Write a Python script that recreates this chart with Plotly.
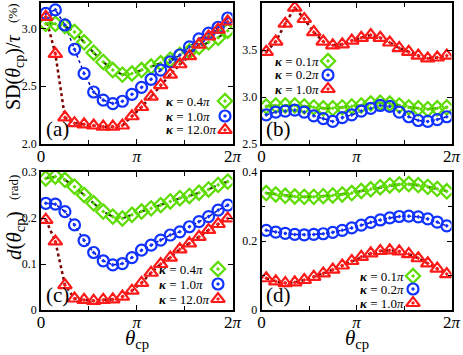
import math
import plotly.graph_objects as go

PI = math.pi
W, H = 463, 355

# sampling points, in units of pi
theta_pi = [0.05, 0.15, 0.25, 0.35, 0.45, 0.55, 0.65, 0.75, 0.85, 0.95,
            1.05, 1.15, 1.25, 1.35, 1.45, 1.55, 1.65, 1.75, 1.85, 1.95]
theta = [t * PI for t in theta_pi]

# (a) SD(theta_cp)/tau in %
sd_a_04 = [3.04, 3.04, 3.02, 2.97, 2.88, 2.79, 2.71, 2.64, 2.60, 2.61,
           2.64, 2.67, 2.70, 2.73, 2.77, 2.80, 2.84, 2.88, 2.92, 2.98]
sd_a_10 = [3.13, 3.16, 3.03, 2.82, 2.61, 2.45, 2.38, 2.35, 2.37, 2.43,
           2.49, 2.56, 2.64, 2.71, 2.77, 2.84, 2.91, 2.96, 3.01, 3.09]
sd_a_120 = [3.10, 2.78, 2.23, 2.18, 2.17, 2.16, 2.15, 2.15, 2.16, 2.24,
            2.32, 2.41, 2.51, 2.60, 2.69, 2.76, 2.86, 2.93, 2.99, 3.06]

# (b) SD(theta_cp)/tau in %
sd_b_01 = [2.90, 2.91, 2.91, 2.91, 2.90, 2.89, 2.88, 2.88, 2.89, 2.90,
           2.91, 2.93, 2.94, 2.93, 2.91, 2.89, 2.88, 2.87, 2.88, 2.89]
sd_b_02 = [2.81, 2.84, 2.85, 2.86, 2.84, 2.80, 2.77, 2.74, 2.78, 2.81,
           2.85, 2.88, 2.91, 2.90, 2.84, 2.79, 2.75, 2.74, 2.76, 2.79]
sd_b_10 = [3.48, 3.59, 3.78, 3.95, 3.83, 3.69, 3.59, 3.55, 3.56, 3.60,
           3.63, 3.66, 3.63, 3.58, 3.52, 3.48, 3.44, 3.41, 3.42, 3.44]

# (c) d(theta_cp) in rad
d_c_04 = [0.286, 0.290, 0.283, 0.268, 0.250, 0.232, 0.214, 0.203, 0.199, 0.207,
          0.214, 0.221, 0.228, 0.236, 0.243, 0.248, 0.255, 0.262, 0.272, 0.279]
d_c_10 = [0.232, 0.230, 0.214, 0.185, 0.151, 0.125, 0.107, 0.098, 0.101, 0.114,
          0.130, 0.141, 0.152, 0.163, 0.170, 0.181, 0.192, 0.203, 0.217, 0.228]
d_c_120 = [0.196, 0.149, 0.054, 0.025, 0.022, 0.020, 0.022, 0.023, 0.029, 0.042,
           0.059, 0.081, 0.100, 0.114, 0.132, 0.145, 0.159, 0.174, 0.187, 0.199]

# (d) d(theta_cp) in rad
d_d_01 = [0.339, 0.335, 0.331, 0.329, 0.328, 0.328, 0.330, 0.332, 0.335, 0.339,
          0.345, 0.350, 0.356, 0.361, 0.364, 0.365, 0.362, 0.357, 0.351, 0.344]
d_d_02 = [0.231, 0.226, 0.222, 0.219, 0.218, 0.219, 0.221, 0.225, 0.231, 0.238,
          0.246, 0.254, 0.261, 0.267, 0.271, 0.272, 0.270, 0.264, 0.255, 0.244]
d_d_10 = [0.092, 0.083, 0.078, 0.080, 0.087, 0.096, 0.106, 0.117, 0.129, 0.142,
          0.154, 0.164, 0.171, 0.173, 0.170, 0.162, 0.150, 0.135, 0.120, 0.104]

labels_ac = ["0.4", "1.0", "12.0"]
labels_bd = ["0.1", "0.2", "1.0"]

GREEN = "#5ddc00"
BLUE = "#1133ff"
RED = "#ff1a1a"
FONT = "Liberation Serif"

styles = [
    dict(color=GREEN, symbol="diamond-open-dot", size=11, line_color="#1f3d00", dash="dash", lw=2.2),
    dict(color=BLUE, symbol="circle-open-dot", size=11, line_color="#0000bb", dash="dot", lw=1.5),
    dict(color=RED, symbol="triangle-up-open-dot", size=12, line_color="#7a0000", dash="dot", lw=2.5),
]

# legend boxes in pixels: text left x, key x, row y's
legend_boxes = [
    (164, 225, [101, 116, 130]),
    (273, 328, [61, 75, 89]),
    (157, 218, [269, 284, 299]),
    (358, 413, [276, 289, 303]),
]

panels = [
    ("x", "y", [sd_a_04, sd_a_10, sd_a_120], labels_ac),
    ("x2", "y2", [sd_b_01, sd_b_02, sd_b_10], labels_bd),
    ("x3", "y3", [d_c_04, d_c_10, d_c_120], labels_ac),
    ("x4", "y4", [d_d_01, d_d_02, d_d_10], labels_bd),
]

fig = go.Figure()
for xa, ya, series, labs in panels:
    for vals, st in zip(series, styles):
        fig.add_trace(go.Scatter(x=theta, y=vals, xaxis=xa, yaxis=ya, mode="lines",
                                 line=dict(color=st["line_color"], dash=st["dash"], width=st["lw"]),
                                 showlegend=False, hoverinfo="skip"))
    for vals, st, lab in zip(series, styles, labs):
        fig.add_trace(go.Scatter(x=theta, y=vals, xaxis=xa, yaxis=ya, mode="markers",
                                 marker=dict(symbol=st["symbol"], size=st["size"], color=st["color"],
                                             line=dict(color=st["color"], width=2.2)),
                                 name="κ = " + lab + "π", showlegend=False))

# legend keys (symbol on the right of the text), drawn on a pixel overlay axis
for i, st in enumerate(styles):
    fig.add_trace(go.Scatter(x=[b[1] for b in legend_boxes], y=[b[2][i] for b in legend_boxes],
                             xaxis="x5", yaxis="y5", mode="markers", showlegend=False, hoverinfo="skip",
                             marker=dict(symbol=st["symbol"], size=st["size"], color=st["color"],
                                         line=dict(color=st["color"], width=2.2))))
for (tx, kx, rows), (_, _, _, labs) in zip(legend_boxes, panels):
    for ry, lab in zip(rows, labs):
        fig.add_annotation(text="<b><i>κ</i></b> = " + lab + "<i>π</i>", x=tx / W, y=1 - ry / H,
                           xref="paper", yref="paper", xanchor="left", yanchor="middle", showarrow=False,
                           font=dict(family=FONT, size=13, color="black"))

xdom_l = [41 / W, 232.5 / W]
xdom_r = [261.5 / W, 451.5 / W]
ydom_t = [1 - 144 / H, 1 - 3 / H]
ydom_b = [1 - 310 / H, 1 - 172 / H]

xticks = dict(tickmode="array", tickvals=[0, PI, 2 * PI],
              ticktext=["0", "<i>π</i>", "2<i>π</i>"], ticklabelstandoff=-4,
              minor=dict(tickmode="array", tickvals=[PI / 2, 1.5 * PI], ticks="inside", ticklen=4,
                         tickcolor="black", tickwidth=1.2),
              range=[0, 2 * PI], tickfont=dict(family=FONT, size=17, color="black"))
common = dict(showline=True, linecolor="black", linewidth=1.5, mirror="ticks", ticks="inside",
              ticklen=5, tickwidth=1.2, tickcolor="black", showgrid=False, zeroline=False,
              automargin=False, fixedrange=True)
yfont = dict(family=FONT, size=12, color="black")

fig.update_layout(
    width=W, height=H, margin=dict(l=0, r=0, t=0, b=0),
    paper_bgcolor="white", plot_bgcolor="rgba(0,0,0,0)",
    xaxis=dict(domain=xdom_l, anchor="y", **xticks, **common),
    yaxis=dict(domain=ydom_t, anchor="x", range=[2.0, 3.22], tickvals=[2.0, 2.5, 3.0],
               ticktext=["2.0", "2.5", "3.0"], tickfont=yfont, **common),
    xaxis2=dict(domain=xdom_r, anchor="y2", **xticks, **common),
    yaxis2=dict(domain=ydom_t, anchor="x2", range=[2.5, 4.0], tickvals=[2.5, 3.0, 3.5, 4.0],
                ticktext=["2.5", "3.0", "3.5", "4.0"], tickfont=yfont, **common),
    xaxis3=dict(domain=xdom_l, anchor="y3", **xticks, **common),
    yaxis3=dict(domain=ydom_b, anchor="x3", range=[0, 0.3], tickvals=[0, 0.1, 0.2, 0.3],
                ticktext=["0", "0.1", "0.2", "0.3"], tickfont=yfont, **common),
    xaxis4=dict(domain=xdom_r, anchor="y4", **xticks, **common),
    yaxis4=dict(domain=ydom_b, anchor="x4", range=[0, 0.4], tickvals=[0, 0.2, 0.4],
                ticktext=["0", "0.2", "0.4"], tickfont=yfont,
                minor=dict(tickmode="array", tickvals=[0.1, 0.3], ticks="inside", ticklen=4,
                           tickcolor="black", tickwidth=1.2), **common),
    xaxis5=dict(domain=[0, 1], anchor="y5", range=[0, W], visible=False, fixedrange=True),
    yaxis5=dict(domain=[0, 1], anchor="x5", range=[H, 0], visible=False, fixedrange=True),
    showlegend=False,
)

ann = [
    dict(text="SD(<i>θ</i><sub>cp</sub>)/<i>τ</i>", x=15, y=72, size=20),
    dict(text="(%)", x=13, y=13, size=13),
    dict(text="<i>d</i>(<i>θ</i><sub>cp</sub>)", x=15, y=236, size=21),
    dict(text="(rad)", x=13, y=188, size=13),
]
for a in ann:
    fig.add_annotation(text=a["text"], x=a["x"] / W, y=1 - a["y"] / H, xref="paper", yref="paper",
                       xanchor="center", yanchor="middle", textangle=-90, showarrow=False,
                       font=dict(family=FONT, size=a["size"], color="black"))

for x in [137, 357]:
    fig.add_annotation(text="<i>θ</i><sub>cp</sub>", x=x / W, y=1 - 339 / H, xref="paper", yref="paper",
                       xanchor="center", yanchor="middle", showarrow=False,
                       font=dict(family=FONT, size=21, color="black"))

for txt, x, y in [("(a)", 44, 143), ("(b)", 264, 143), ("(c)", 44, 309), ("(d)", 264, 309)]:
    fig.add_annotation(text=txt, x=x / W, y=1 - y / H, xref="paper", yref="paper", showarrow=False,
                       xanchor="left", yanchor="bottom",
                       font=dict(family=FONT, size=21, color="black"))

fig.write_html("out.html", config={"displayModeBar": False},
               post_script="document.body.style.margin = '0px';")
